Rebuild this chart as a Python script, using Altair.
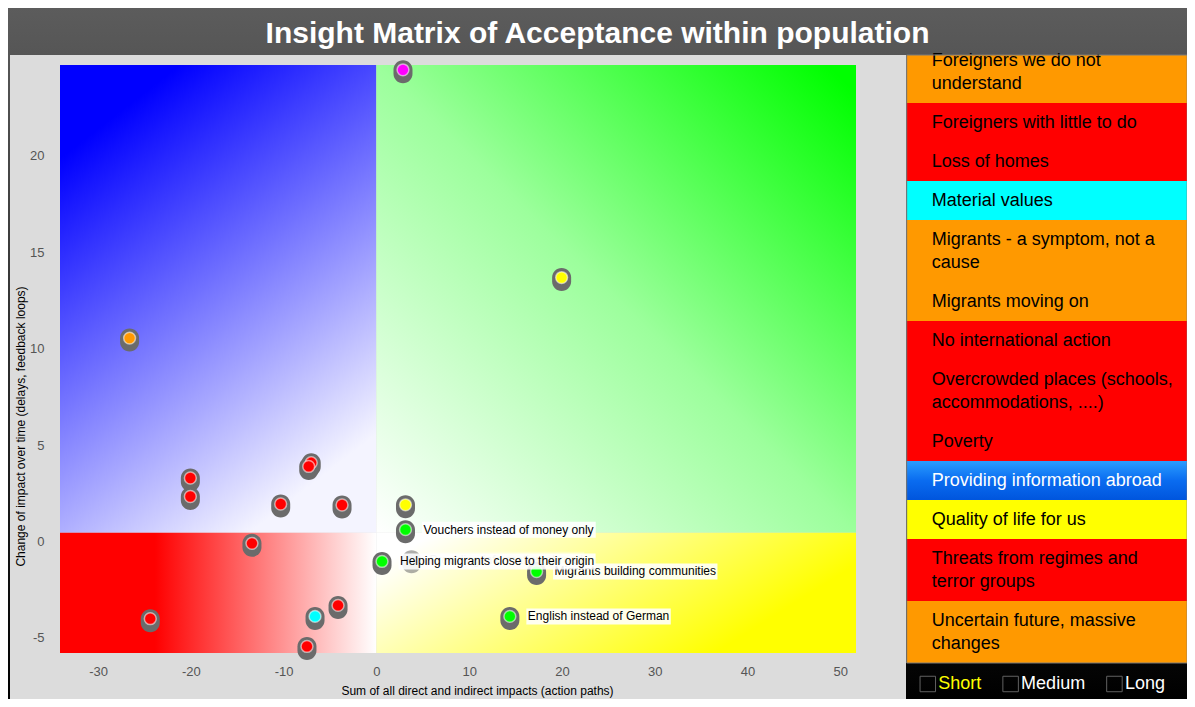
import altair as alt
import pandas as pd

# ---------------- data ----------------
title_text = "Insight Matrix of Acceptance within population"
x_title = "Sum of all direct and indirect impacts (action paths)"
y_title = "Change of impact over time (delays, feedback loops)"

pt_x = [2.87, 19.97, -26.6, -20.05, -20.05, -7.02, -7.29, -10.31, -3.70, -13.41,
        -24.37, -6.61, -4.13, -7.48, 3.14, 3.14, 17.27, 14.39, 3.79, 0.61]
pt_y = [24.47, 13.69, 10.55, 3.29, 2.33, 4.08, 3.89, 1.94, 1.89, -0.10,
        -4.01, -3.89, -3.32, -5.45, 1.90, 0.61, -1.56, -3.89, -0.95, -1.04]
pt_level = ["other", "quality", "medium", "high", "high", "high", "high", "high", "high", "high",
            "high", "value", "high", "high", "quality", "positive", "positive", "positive", "info", "positive"]
pt_label = ["", "", "", "", "", "", "", "", "", "",
            "", "", "", "", "",
            "Vouchers instead of money only",
            "Migrants building communities",
            "English instead of German",
            "Providing information abroad",
            "Helping migrants close to their origin"]

legend_labels = ["Foreigners we do not\nunderstand", "Foreigners with little to do", "Loss of homes",
                 "Material values", "Migrants - a symptom, not a\ncause", "Migrants moving on",
                 "No international action", "Overcrowded places (schools,\naccommodations, ....)",
                 "Poverty", "Providing information abroad", "Quality of life for us",
                 "Threats from regimes and\nterror groups", "Uncertain future, massive\nchanges"]
legend_level = ["medium", "high", "high", "value", "medium", "medium", "high", "high", "high",
                "info", "quality", "high", "medium"]

horizons = ["Short", "Medium", "Long"]
selected_horizon = "Short"

x_ticks = [-30, -20, -10, 0, 10, 20, 30, 40, 50]
y_ticks = [-5, 0, 5, 10, 15, 20]
x_domain = [-34.1, 51.7]
y_domain = [-5.79, 24.72]
x_split = 0.0
y_split = 0.45

# ---------------- styles ----------------
levels = ["high", "medium", "value", "quality", "info", "positive", "other"]
palette = ["#ff0000", "#ff9900", "#00ffff", "#ffff00", "#1f8fff", "#00ff00", "#ff00ff"]
FONT = "Liberation Sans"

ARIAL = {" ": 278, "A": 667, "B": 667, "C": 722, "D": 722, "E": 667, "F": 611, "G": 778, "H": 722,
         "I": 278, "J": 500, "K": 667, "L": 556, "M": 833, "N": 722, "O": 778, "P": 667, "Q": 778,
         "R": 722, "S": 667, "T": 611, "U": 722, "V": 667, "W": 944, "X": 667, "Y": 667, "Z": 611,
         "a": 556, "b": 556, "c": 500, "d": 556, "e": 556, "f": 278, "g": 556, "h": 556, "i": 222,
         "j": 222, "k": 500, "l": 222, "m": 833, "n": 556, "o": 556, "p": 556, "q": 556, "r": 333,
         "s": 500, "t": 278, "u": 556, "v": 500, "w": 722, "x": 500, "y": 500, "z": 500,
         "-": 333, ",": 278, ".": 278, "(": 333, ")": 333}


def text_w(s, size):
    return sum(ARIAL.get(c, 556) for c in s) * size / 1000.0


W, H = 796, 588
PAD = {"left": 52, "top": 57, "right": 331, "bottom": 46}

xs = alt.Scale(domain=x_domain, nice=False, zero=False)
ys = alt.Scale(domain=y_domain, nice=False, zero=False)
xaxis = alt.Axis(values=x_ticks, title=x_title, grid=False, domain=False, ticks=False, tickSize=0,
                 labelExpr="'' + datum.value",
                 labelColor="#555555", labelFontSize=13, labelPadding=12, labelFont=FONT,
                 titleFont=FONT, titleFontSize=12, titleColor="#000000", titleFontWeight="normal",
                 titleX=417, titleY=37, titleAlign="center", titleBaseline="middle", zindex=1)
yaxis = alt.Axis(values=y_ticks, title=y_title, grid=False, domain=False, ticks=False, tickSize=0,
                 labelExpr="'' + datum.value",
                 labelColor="#555555", labelFontSize=13, labelPadding=16, labelFont=FONT,
                 titleFont=FONT, titleFontSize=12, titleColor="#000000", titleFontWeight="normal",
                 titleX=-40, titleY=361, titleAngle=270, titleAlign="center", titleBaseline="middle",
                 zindex=1)


def X(f):
    return alt.X(f, type="quantitative", scale=xs, axis=xaxis)


def Y(f):
    return alt.Y(f, type="quantitative", scale=ys, axis=yaxis)


color_scale = alt.Scale(domain=levels, range=palette)


def grad(stops, x1, y1, x2, y2):
    return alt.LinearGradient(gradient="linear",
                              stops=[alt.GradientStop(color=c, offset=o) for c, o in stops],
                              x1=x1, y1=y1, x2=x2, y2=y2)


one = pd.DataFrame({"k": [0]})

# page background and panel (decoration)
bg = alt.Chart(one).mark_rect(
    fill=grad([("#5c5c5c", 0), ("#2e2e2e", 0.5), ("#000000", 1)], 0, 0, 0, 1)
).encode(x=alt.value(-52), x2=alt.value(W + PAD["right"]), y=alt.value(-57), y2=alt.value(H + PAD["bottom"]))

panel = alt.Chart(one).mark_rect(fill="#dcdcdc").encode(
    x=alt.value(-50), x2=alt.value(846), y=alt.value(-10), y2=alt.value(640))

title = alt.Chart(pd.DataFrame({"t": [title_text]})).mark_text(
    font=FONT, fontSize=30, fontWeight="bold", color="#ffffff", align="center", baseline="alphabetic"
).encode(x=alt.value(537.5), y=alt.value(-22), text="t:N")

# quadrants
quad = pd.DataFrame({
    "q": ["tl", "tr", "bl", "br"],
    "qx0": [x_domain[0], x_split, x_domain[0], x_split],
    "qx1": [x_split, x_domain[1], x_split, x_domain[1]],
    "qy0": [y_split, y_split, y_domain[0], y_domain[0]],
    "qy1": [y_domain[1], y_domain[1], y_split, y_split],
})
quad_fill = {
    "tl": grad([("#0000ff", 0), ("#0000ff", 0.08), ("#f4f4ff", 1)], 0.1, 0.05, 0.6, 1),
    "tr": grad([("#ffffff", 0), ("#9cff9c", 0.5), ("#00ff00", 0.97)], 0, 1, 1, 0),
    "bl": grad([("#ff0000", 0), ("#ff0000", 0.3), ("#ffffff", 1)], 0, 0.5, 1, 0.5),
    "br": grad([("#ffffff", 0), ("#ffff00", 0.85)], 0, 0.3, 1, 0.7),
}
quad_layers = [
    alt.Chart(quad).transform_filter(f"datum.q == '{q}'").mark_rect(fill=f).encode(
        x=X("qx0"), x2=alt.X2("qx1"), y=Y("qy0"), y2=alt.Y2("qy1"))
    for q, f in quad_fill.items()
]

pts = pd.DataFrame({"x": pt_x, "y": pt_y, "level": pt_level, "label": pt_label})
pts["idx"] = range(len(pts))

PILL = ("M -0.7037 0 A 0.7037 0.7037 0 0 1 0.7037 0 L 0.7037 0.2963 "
        "A 0.7037 0.7037 0 0 1 -0.7037 0.2963 Z")
pill = alt.Chart(pts).mark_point(shape=PILL, filled=True, size=729, fill="#6b6b6b", strokeWidth=0).encode(
    x=X("x"), y=Y("y"),
    opacity=alt.condition("datum.level == 'info'", alt.value(0.55), alt.value(1.0)))
dot = alt.Chart(pts).mark_point(shape="circle", filled=True, size=140, stroke="#ffffff",
                                strokeWidth=1.5, strokeOpacity=0.55).encode(
    x=X("x"), y=Y("y"), fill=alt.Fill("level:N", scale=color_scale, legend=None),
    opacity=alt.condition("datum.level == 'info'", alt.value(0.2), alt.value(1.0)))

label_layers = []
for i, row in pts[pts.label != ""].iterrows():
    w = text_w(row.label, 12)
    op = 0.35 if row.level == "info" else 1.0
    src = alt.Chart(pts).transform_filter(f"datum.idx == {row.idx}")
    label_layers.append(src.mark_rect(fill="#ffffff", opacity=0.88 * op, xOffset=16.5, x2Offset=16.5 + w + 3,
                                      yOffset=-8, y2Offset=8).encode(
        x=X("x"), x2=alt.X2("x"), y=Y("y"), y2=alt.Y2("y")))
    label_layers.append(src.mark_text(font=FONT, fontSize=12, align="left", baseline="middle", dx=18,
                                      color="#000000", opacity=op).encode(
        x=X("x"), y=Y("y"), text="label:N"))

main = alt.layer(bg, panel, title, *quad_layers, pill, dot, *label_layers)

# ---------------- legend list (right side) ----------------
LW = 280.5
SCROLL = 14
VIS = 608
LINE = 23
lx = alt.Scale(domain=[0, LW], range=[846.7, 846.7 + LW])
ly = alt.Scale(domain=[SCROLL, SCROLL + VIS], range=[-10, -10 + VIS], clamp=True)

rows = pd.DataFrame({"label": legend_labels, "level": legend_level})
rows["lines"] = rows["label"].str.count("\n") + 1
rows["h"] = 16 + LINE * rows["lines"]
rows["v1"] = rows["h"].cumsum()
rows["v0"] = rows["v1"] - rows["h"]
rows["ty"] = (rows["v0"] + rows["v1"]) / 2 - (rows["lines"] - 1) * LINE / 2
rows["x0"] = 0.0
rows["x1"] = LW


def LX(f):
    return alt.X(f, type="quantitative", scale=lx, axis=None)


def LY(f):
    return alt.Y(f, type="quantitative", scale=ly, axis=None)


row_rects = alt.Chart(rows).mark_rect().encode(
    x=LX("x0"), x2=alt.X2("x1"), y=LY("v0"), y2=alt.Y2("v1"),
    fill=alt.Fill("level:N", scale=color_scale, legend=None))
row_info = alt.Chart(rows).transform_filter("datum.level == 'info'").mark_rect(
    fill=grad([("#2a9dff", 0), ("#0a6cf0", 0.5), ("#0055dd", 1)], 0, 0, 0, 1)).encode(
    x=LX("x0"), x2=alt.X2("x1"), y=LY("v0"), y2=alt.Y2("v1"))
row_text = alt.Chart(rows).mark_text(font=FONT, fontSize=18, align="left", baseline="middle", dx=25,
                                     lineBreak="\n", lineHeight=LINE).encode(
    x=LX("x0"), y=LY("ty"), text="label:N",
    color=alt.condition("datum.level == 'info'", alt.value("#ffffff"), alt.value("#000000")))
border = alt.Chart(pd.DataFrame({"x0": [0.0], "x1": [LW], "v0": [SCROLL], "v1": [SCROLL + VIS]})).mark_rect(
    fillOpacity=0, stroke="#7a7a7a", strokeWidth=1).encode(
    x=LX("x0"), x2=alt.X2("x1"), y=LY("v0"), y2=alt.Y2("v1"))

# horizon check boxes
hb = []
pos = 13.3
for h in horizons:
    hb.append({"h": h, "bx": pos + 7.8, "tx": pos + 18.3})
    pos = pos + 18.3 + text_w(h, 18) + 21.5
hdf = pd.DataFrame(hb)
boxes = alt.Chart(hdf).mark_point(shape="square", filled=False, size=240, stroke="#8a8a8a",
                                  strokeWidth=1).encode(x=LX("bx"), y=alt.value(619))
htext = alt.Chart(hdf).mark_text(font=FONT, fontSize=18, align="left", baseline="middle").encode(
    x=LX("tx"), y=alt.value(619), text="h:N",
    color=alt.condition(f"datum.h == '{selected_horizon}'", alt.value("#ffff00"), alt.value("#ffffff")))

legend = alt.layer(row_rects, row_info, row_text, border, boxes, htext)

chart = alt.layer(main, legend).resolve_scale(x="independent", y="independent").properties(
    width=W, height=H, autosize=alt.AutoSizeParams(type="none"), padding=PAD,
    background="#000000"
).configure_view(strokeWidth=0).configure(font=FONT)

chart.save("out.html", embed_options={"renderer": "svg", "actions": False})
